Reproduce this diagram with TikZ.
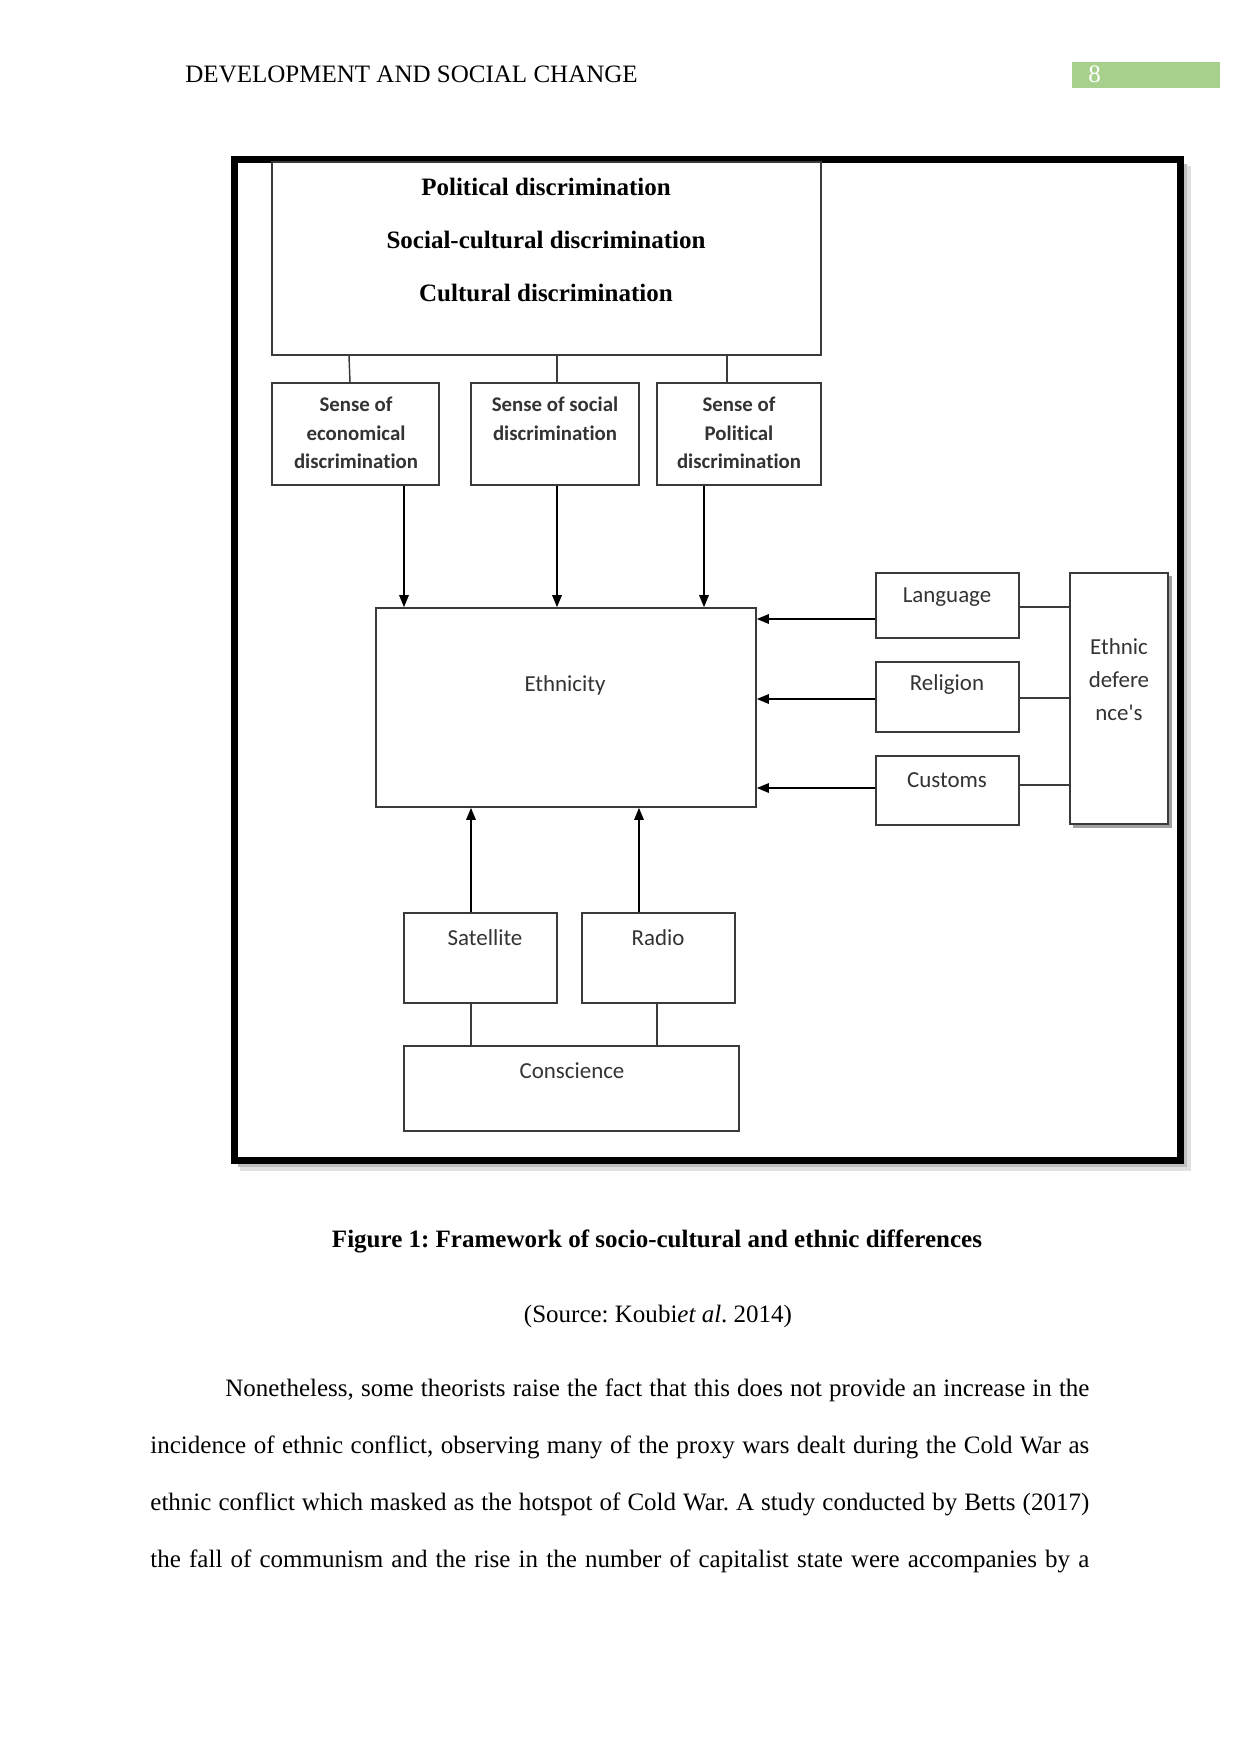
\documentclass[tikz,border=0pt]{standalone}
\usepackage{fontspec}
\setmainfont{Liberation Serif}
\newfontfamily\calib[Ligatures=NoCommon]{Carlito}
\usetikzlibrary{arrows.meta,fit}
\definecolor{boxc}{HTML}{3A3A3A}
\definecolor{txtc}{HTML}{333333}
\definecolor{hdrgreen}{HTML}{A8D08D}
\definecolor{shadowc}{HTML}{A0A0A0}
\frenchspacing
\begin{document}
\begin{tikzpicture}[x=0.4797pt,y=-0.4797pt,
  box/.style={draw=boxc, line width=0.8pt, inner sep=0pt, fill=white},
  lbl/.style={font=\calib\fontsize{11}{15.8}\selectfont, text=txtc, inner sep=0pt, align=center},
  blbl/.style={font=\calib\bfseries\fontsize{10}{13.7}\selectfont, text=txtc, align=center, inner sep=0pt},
  arr/.style={-{Triangle[length=5.8pt,width=4.6pt]}, line width=0.7pt, draw=black},
  con/.style={line width=0.7pt, draw=boxc},
  body/.style={font=\fontsize{12}{14}\selectfont, inner sep=0pt, anchor=base west}]
\useasboundingbox[fill=white] (0,0) rectangle (1241,1754);

% header
\node[font=\fontsize{12}{14}\selectfont, anchor=base west, inner sep=0pt] (hdr) at (185,83) {DEVELOPMENT AND SOCIAL CHANGE};
\fill[hdrgreen] (1072,62) rectangle (1220,88);
\node[font=\fontsize{12}{14}\selectfont, text=white, anchor=base west, inner sep=0pt] (pg) at (1088,83) {8};

% frame with soft shadow
\draw[black!12, line width=3pt] (1188,166) -- (1188,1168) -- (240,1168);
\draw[black!25, line width=1.5pt] (1185.5,164) -- (1185.5,1165.5) -- (238,1165.5);
\draw[line width=3.36pt] (234.5,159.5) rectangle (1180.5,1160.5);

% top box
\node[box, fit={(272,162) (821,355)}] (top) {};
\node[font=\bfseries\fontsize{12}{25.4}\selectfont, align=center, inner sep=0pt] (toptxt) at (546,240) {Political discrimination\\Social-cultural discrimination\\Cultural discrimination};

% sense boxes
\node[box, fit={(272,383) (439,485)}] (s1) {};
\node[box, fit={(471,383) (639,485)}] (s2) {};
\node[box, fit={(657,383) (821,485)}] (s3) {};
\node[blbl] (s1t) at (356,433) {Sense of\\economical\\discrimination};
\node[blbl] (s2t) at (555,419) {Sense of social\\discrimination};
\node[blbl] (s3t) at (739,433) {Sense of\\Political\\discrimination};

\draw[con] (top.south -| 349,0) -- (s1.north -| 350,0);
\draw[con] (top.south -| 557,0) -- (s2.north -| 557,0);
\draw[con] (top.south -| 727,0) -- (s3.north -| 727,0);

% ethnicity
\node[box, fit={(376,608) (756,807)}] (eth) {};
\node[lbl] (etht) at (565,685) {Ethnicity};

\draw[arr] (s1.south -| 404,0) -- (eth.north -| 404,0);
\draw[arr] (s2.south -| 557,0) -- (eth.north -| 557,0);
\draw[arr] (s3.south -| 704,0) -- (eth.north -| 704,0);

% right side
\fill[shadowc] (1073,576) rectangle (1172,828);
\node[box, fit={(1070,573) (1168,824)}] (ed) {};
\node[lbl] (edt) at (1119,680) {Ethnic\\defere\\nce's};

\node[box, fit={(876,573) (1019,638)}] (lang) {};
\node[box, fit={(876,662) (1019,732)}] (rel) {};
\node[box, fit={(876,756) (1019,825)}] (cus) {};
\node[lbl] (langt) at (947,597) {Language};
\node[lbl] (relt) at (947,685) {Religion};
\node[lbl] (cust) at (947,780) {Customs};

\draw[arr] (lang.west |- 0,619) -- (eth.east |- 0,619);
\draw[arr] (rel.west |- 0,699) -- (eth.east |- 0,699);
\draw[arr] (cus.west |- 0,788) -- (eth.east |- 0,788);

\draw[con] (lang.east |- 0,607) -- (ed.west |- 0,607);
\draw[con] (rel.east |- 0,698) -- (ed.west |- 0,698);
\draw[con] (cus.east |- 0,785) -- (ed.west |- 0,785);

% bottom
\node[box, fit={(404,913) (557,1003)}] (sat) {};
\node[box, fit={(582,913) (735,1003)}] (rad) {};
\node[box, fit={(404,1046) (739,1131)}] (con) {};
\node[lbl] (satt) at (485,938) {Satellite};
\node[lbl] (radt) at (658,938) {Radio};
\node[lbl] (cont) at (572,1071) {Conscience};

\draw[arr] (sat.north -| 471,0) -- (eth.south -| 471,0);
\draw[arr] (rad.north -| 639,0) -- (eth.south -| 639,0);
\draw[con] (sat.south -| 471,0) -- (con.north -| 471,0);
\draw[con] (rad.south -| 657,0) -- (con.north -| 657,0);

% caption
\node[font=\bfseries\fontsize{12}{14}\selectfont, anchor=base, inner sep=0pt] (cap) at (657,1247) {Figure 1: Framework of socio-cultural and ethnic differences};
\node[font=\fontsize{12}{14}\selectfont, anchor=base, inner sep=0pt] (src) at (658,1322) {(Source: Koubi\textit{et al}. 2014)};

% body text
\node[body] (l1) at (225,1396) {\makebox[414.5pt][s]{Nonetheless, some theorists raise the fact that this does not provide an increase in the}};
\node[body] (l2) at (150,1453) {\makebox[450.4pt][s]{incidence of ethnic conflict, observing many of the proxy wars dealt during the Cold War as}};
\node[body] (l3) at (150,1510) {\makebox[450.4pt][s]{ethnic conflict which masked as the hotspot of Cold War. A study conducted by Betts (2017)}};
\node[body] (l4) at (150,1567) {\makebox[450.4pt][s]{the fall of communism and the rise in the number of capitalist state were accompanies by a}};
\end{tikzpicture}
\end{document}
